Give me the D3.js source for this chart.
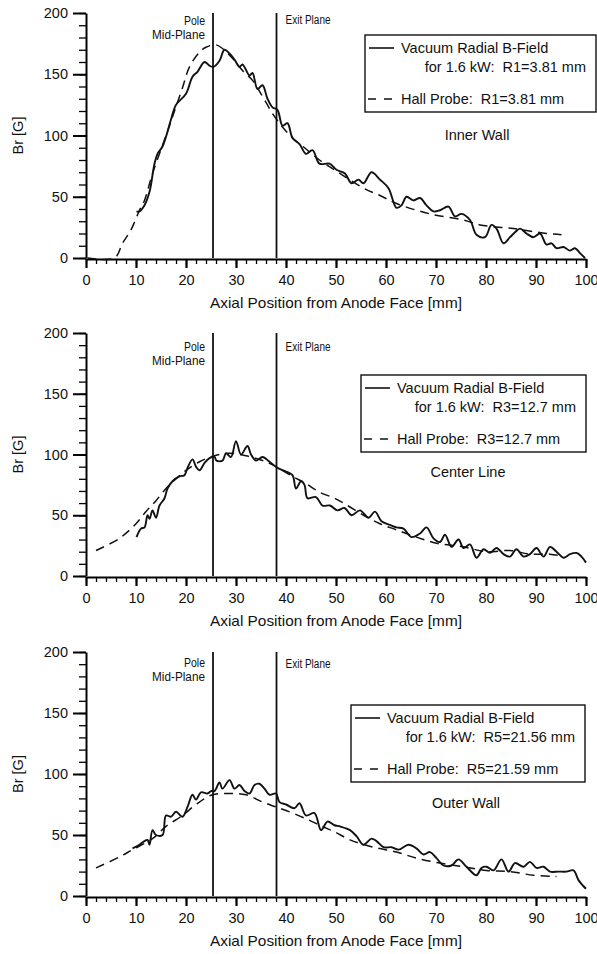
<!DOCTYPE html>
<html>
<head>
<meta charset="utf-8">
<script src="https://d3js.org/d3.v7.min.js"></script>
<style>
body { margin: 0; background: #fff; }
text { font-family: "Liberation Sans", Arial, Helvetica, sans-serif; fill: #111; }
</style>
</head>
<body>
<svg width="597" height="954"></svg>
<script>
// axis ticks
var xMajor = [0, 10, 20, 30, 40, 50, 60, 70, 80, 90, 100];
var yMajor = [0, 50, 100, 150, 200];
var planeX = [25.4, 38.1];   // pole mid-plane, exit plane [mm]
var panelNames = ["Inner Wall", "Center Line", "Outer Wall"];
var vacuumR = ["R1=3.81 mm", "R3=12.7 mm", "R5=21.56 mm"];
var hallR = ["R1=3.81 mm", "R3=12.7 mm", "R5=21.59 mm"];

// [axial position mm, Br G]
var innerVacuum = [[10.1,38],[10.7,38],[11.7,43],[12.7,54],[13.7,77],[14.3,85],[15.3,91],[16,99],[17,113],[18,125],[20,134],
  [21.3,148],[22.3,152],[23.7,160],[24.7,157],[25.5,156],[26.7,161],[27.7,170],[28.7,167],[29.7,162],[30.7,156],[31.3,158],
  [32.7,149],[33.3,151],[34.3,138],[35.3,141],[36.3,130],[37.3,123],[38.3,121],[39.3,108],[40.3,110],[41.3,98],[42.7,93],
  [44,85],[45.3,88],[46.7,77],[48.7,77],[50.1,72],[51.8,69],[53.1,61],[54.5,64],[55.5,61],[57.1,70],[58.8,64],[60.5,57],
  [62.1,41],[63.1,43],[64.1,50],[65.5,47],[66.8,49],[68.1,43],[69.5,38],[70.8,39],[72.5,42],[73.8,34],[75.1,36],[76.8,31],
  [78.1,19],[79.8,17],[81.1,27],[82.1,24],[83.5,12],[84.8,17],[85.8,21],[86.8,24],[88.1,20],[89.5,17],[90.8,20],[92.1,11],
  [93.1,12],[94.1,8],[95.5,9],[96.8,6],[97.8,8],[98.8,4],[99.8,0]];
var innerHall = [[0.3,0],[5.7,0],[7.3,12],[9,23],[10.7,39],[11.7,47],[13.3,69],[15.3,92],[16.7,108],[17.7,120],[19.3,139],
  [20.7,156],[22.7,168],[24,172],[26,174],[27.3,171],[29.3,163],[31.3,153],[33.3,145],[35.3,132],[37.3,118],[39.3,107],
  [41.3,98],[44,89],[46.7,80],[49.7,72],[55.5,57],[58.8,51],[62.1,44.5],[68.8,36],[75.5,31],[78.8,27],[85.5,24],[92.1,20],[95.1,19]];

var centerVacuum = [[10.1,32],[11,39],[11.7,40],[12.3,50],[12.7,47],[13.3,54],[14,48],[14.7,58],[15.7,64],[16.3,72],[17.3,78],
  [18.7,82],[19.7,83],[20.3,89],[21.3,96],[22,90],[22.7,87],[23.7,93],[24.7,97],[25.7,98],[26.1,95],[27.3,95],[28,101],[29,98],
  [30,111],[31,100],[32.3,107],[33,100],[34,95],[35.3,98],[36.7,94],[38.3,89],[40,86],[41.3,83],[42,72],[43,78],[43.7,75],
  [44.3,64],[46,65],[47.3,58],[48.8,58],[50.3,54],[51.7,56],[53.1,50],[54.8,54],[56.5,48],[57.8,53],[59.1,45],[60.8,42],
  [62.1,40],[63.5,39],[65.1,32],[66.8,35],[68.1,40],[69.5,31],[70.8,28],[71.8,34],[73.1,24],[74.5,30],[75.5,23],[76.8,26],
  [78.1,15],[79.5,22],[80.8,19],[82.1,23],[83.5,18],[84.8,16],[86.1,22],[87.5,16],[88.8,18],[90.1,23],[91.5,16],[92.8,24],
  [94.1,20],[95.5,15],[96.8,18],[98.1,19],[99.1,16],[100,11]];
var centerHall = [[2,21],[6.7,31],[10,43],[12,53],[14,62],[16,72],[18,80],[20,87],[22.7,94],[25.7,99],[28.7,101],[32,99],
  [35.3,95],[38,90],[41.3,82],[44,76],[46.7,69],[49.7,64],[51.5,60],[55.5,50],[58.8,43],[62.1,38],[66.1,32],[70.1,27],
  [75.5,24],[80.1,20],[84.8,21],[88.8,18],[92.8,18],[95.5,16]];

var outerVacuum = [[9.3,39],[10.7,42],[11.7,45],[12.3,46],[12.7,42],[13.3,54],[14,50],[15.3,50],[16,66],[17,65],[18,69],
  [19.3,65],[20.3,73],[21.3,83],[22,79],[23,85],[24.3,84],[25,86],[25.7,86],[26.7,93],[27.3,88],[28.7,95],[29.7,88],[30.7,91],
  [31.7,86],[32.7,84],[33.7,91],[34.7,92],[35.7,88],[36.7,83],[38,84],[38.7,77],[40,75],[41.7,72],[42.7,76],[44,66],[45.7,68],
  [47,54],[48.3,61],[49.7,58],[50.8,57],[52.8,54],[54.1,49],[55.5,42],[57.1,47],[58.1,45],[59.5,40],[61.1,40],[62.5,38],
  [64.5,42],[66.1,39],[67.5,34],[68.8,36],[70.1,31],[71.5,25],[73.1,25],[74.5,30],[76.1,24],[78.1,17],[79.1,23],[80.1,24],
  [81.5,21],[83.1,30],[84.5,20],[85.8,27],[87.5,24],[88.8,28],[90.1,23],[91.5,24],[92.8,20],[94.5,20],[96.1,20],[97.5,21],
  [98.5,13],[99.5,8],[100,6]];
var outerHall = [[2,23],[6.7,32],[9.3,38],[13.3,47],[16,57],[19.3,66],[22,75],[25.3,83],[28.7,84],[32,83],[35.3,77],[38,73],
  [41.3,68],[44.7,62],[47.3,57],[50,52],[52.8,46],[57.5,40],[62.1,36],[66.1,31],[70.8,27],[75.5,24],[80.1,21],[84.8,20],
  [89.5,17],[94.1,16]];

var svg = d3.select("svg");
var x = d3.scaleLinear().domain([0, 100]).range([86, 586]);

var panels = [
  {top: 13,  bottom: 258, vac: innerVacuum,  hall: innerHall,  box: [365, 35, 231],  name: [477, 135], pole: 8,  exit: 7},
  {top: 333, bottom: 576, vac: centerVacuum, hall: centerHall, box: [361, 375, 225], name: [468, 472], pole: 14, exit: 14},
  {top: 652, bottom: 896, vac: outerVacuum,  hall: outerHall,  box: [351, 705, 234], name: [466, 803], pole: 11, exit: 12}
];

panels.forEach(function(p, i) {
  var y = d3.scaleLinear().domain([0, 200]).range([p.bottom, p.top]);
  var g = svg.append("g");

  // y axis minor + major
  g.append("g").attr("transform", "translate(86,0)")
    .call(d3.axisLeft(y).tickValues(d3.range(0, 201, 10)).tickSize(7).tickFormat(""))
    .call(function(a) { a.select(".domain").remove(); a.selectAll("line").attr("stroke-width", 1.3); });
  var ya = g.append("g").attr("transform", "translate(86,0)")
    .call(d3.axisLeft(y).tickValues(yMajor).tickSize(13).tickSizeOuter(0).tickPadding(5));
  ya.select(".domain").attr("stroke-width", 2);
  ya.selectAll("line").attr("stroke-width", 2);
  ya.selectAll("text").attr("font-size", 14.5).attr("font-family", null);

  // x axis minor + major
  g.append("g").attr("transform", "translate(0," + (p.bottom + 1) + ")")
    .call(d3.axisBottom(x).tickValues(d3.range(0, 101, 2)).tickSize(5).tickFormat(""))
    .call(function(a) { a.select(".domain").remove(); a.selectAll("line").attr("stroke-width", 1.3); });
  var xa = g.append("g").attr("transform", "translate(0," + (p.bottom + 1) + ")")
    .call(d3.axisBottom(x).tickValues(xMajor).tickSize(9).tickSizeOuter(0).tickPadding(7));
  xa.select(".domain").attr("stroke-width", 2);
  xa.selectAll("line").attr("stroke-width", 2.2);
  xa.selectAll("text").attr("font-size", 14.5).attr("font-family", null);

  // axis titles
  g.append("text").attr("x", x(50)).attr("y", p.bottom + 50)
    .attr("text-anchor", "middle").attr("font-size", 14.5)
    .attr("textLength", 252).attr("lengthAdjust", "spacingAndGlyphs")
    .text("Axial Position from Anode Face [mm]");
  g.append("text")
    .attr("transform", "translate(23," + y(100) + ") rotate(-90)")
    .attr("text-anchor", "middle").attr("font-size", 14.5)
    .text("Br [G]");

  // pole / exit planes
  g.selectAll(".plane").data(planeX).enter().append("line")
    .attr("x1", function(d) { return x(d); }).attr("x2", function(d) { return x(d); })
    .attr("y1", y(200)).attr("y2", p.bottom)
    .attr("stroke", "#111").attr("stroke-width", 1.8);
  g.append("text").attr("x", x(planeX[0]) - 8).attr("y", p.top + p.pole + 4)
    .attr("text-anchor", "end").attr("font-size", 12)
    .attr("textLength", 21).attr("lengthAdjust", "spacingAndGlyphs").text("Pole");
  g.append("text").attr("x", x(planeX[0]) - 8).attr("y", p.top + p.pole + 18)
    .attr("text-anchor", "end").attr("font-size", 12)
    .attr("textLength", 53).attr("lengthAdjust", "spacingAndGlyphs").text("Mid-Plane");
  g.append("text").attr("x", x(planeX[1]) + 9).attr("y", p.top + p.exit + 4)
    .attr("font-size", 12)
    .attr("textLength", 45).attr("lengthAdjust", "spacingAndGlyphs").text("Exit Plane");

  // curves
  var line = d3.line().curve(d3.curveCatmullRom.alpha(0.5))
    .x(function(d) { return x(d[0]); }).y(function(d) { return y(d[1]); });
  g.append("path").datum(p.hall).attr("d", line)
    .attr("fill", "none").attr("stroke", "#111").attr("stroke-width", 1.5).attr("stroke-dasharray", "9,6");
  g.append("path").datum(p.vac).attr("d", line)
    .attr("fill", "none").attr("stroke", "#111").attr("stroke-width", 1.9).attr("stroke-linejoin", "round");

  // legend
  var bx = p.box[0], by = p.box[1], bw = p.box[2];
  var lg = g.append("g");
  lg.append("rect").attr("x", bx).attr("y", by).attr("width", bw).attr("height", 77)
    .attr("fill", "#fff").attr("stroke", "#111").attr("stroke-width", 1.4);
  lg.append("line").attr("x1", bx + 4).attr("x2", bx + 29).attr("y1", by + 13).attr("y2", by + 13)
    .attr("stroke", "#111").attr("stroke-width", 1.6);
  lg.append("text").attr("x", bx + 36).attr("y", by + 18).attr("font-size", 14.5).text("Vacuum Radial B-Field");
  lg.append("text").attr("x", bx + bw - 10).attr("y", by + 37).attr("text-anchor", "end").attr("font-size", 14.5)
    .attr("xml:space", "preserve").text("for 1.6 kW:  " + vacuumR[i]);
  lg.append("line").attr("x1", bx + 3).attr("x2", bx + 29).attr("y1", by + 64).attr("y2", by + 64)
    .attr("stroke", "#111").attr("stroke-width", 1.4).attr("stroke-dasharray", "8,8");
  lg.append("text").attr("x", bx + 36).attr("y", by + 69).attr("font-size", 14.5)
    .attr("xml:space", "preserve").text("Hall Probe:  " + hallR[i]);

  g.append("text").attr("x", p.name[0]).attr("y", p.name[1] + 5)
    .attr("text-anchor", "middle").attr("font-size", 14.5).text(panelNames[i]);
});
</script>
</body>
</html>
